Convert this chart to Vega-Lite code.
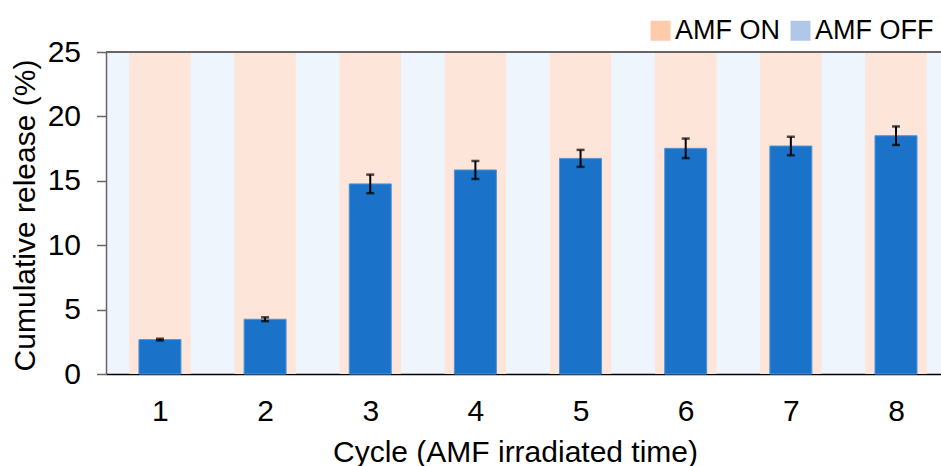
{
  "$schema": "https://vega.github.io/schema/vega-lite/v6.json",
  "width": 835,
  "height": 322,
  "autosize": {"type": "none"},
  "padding": {"left": 106, "top": 52, "right": 0, "bottom": 92},
  "background": "white",
  "view": {"fill": "#EEF5FC", "stroke": null},
  "config": {
    "font": "Liberation Sans"
  },
  "datasets": {
    "release": [
      {"cycle": 1, "value": 2.67, "err": 0.07},
      {"cycle": 2, "value": 4.25, "err": 0.15},
      {"cycle": 3, "value": 14.76, "err": 0.72},
      {"cycle": 4, "value": 15.84, "err": 0.70},
      {"cycle": 5, "value": 16.74, "err": 0.66},
      {"cycle": 6, "value": 17.52, "err": 0.76},
      {"cycle": 7, "value": 17.70, "err": 0.72},
      {"cycle": 8, "value": 18.50, "err": 0.72}
    ],
    "status": [
      {"status": "AMF ON"},
      {"status": "AMF OFF"}
    ]
  },
  "data": {"name": "release"},
  "layer": [
    {
      "mark": {"type": "bar", "orient": "vertical", "size": 61.5, "color": "#FEE5D9"},
      "encoding": {
        "x": {
          "field": "cycle",
          "type": "quantitative",
          "title": "Cycle (AMF irradiated time)",
          "scale": {"domain": [0.487, 8.428], "nice": false, "zero": false, "padding": 0},
          "axis": {
            "values": [1, 2, 3, 4, 5, 6, 7, 8],
            "format": "d",
            "ticks": false,
            "grid": false,
            "domainColor": "#000000",
            "domainWidth": 1.5,
            "labelFontSize": 30,
            "labelColor": "#000000",
            "labelPadding": 22,
            "labelFlush": false,
            "titleFontSize": 30,
            "titleFontWeight": "normal",
            "titleColor": "#000000",
            "titleX": 409,
            "titleY": 87,
            "titleBaseline": "alphabetic",
            "titleAnchor": "middle",
            "titleAlign": "center"
          }
        },
        "y": {
          "datum": 25,
          "type": "quantitative",
          "title": "Cumulative release (%)",
          "scale": {"domain": [0, 25], "nice": false},
          "axis": {
            "values": [0, 5, 10, 15, 20, 25],
            "grid": false,
            "domainColor": "#666666",
            "domainWidth": 1.5,
            "tickColor": "#666666",
            "tickSize": 9.5,
            "tickWidth": 1.5,
            "labelFontSize": 30,
            "labelColor": "#000000",
            "labelPadding": 16,
            "titleFontSize": 30,
            "titleFontWeight": "normal",
            "titleColor": "#000000",
            "titleAngle": -90,
            "titleX": -81,
            "titleY": 163,
            "titleAlign": "center",
            "titleBaseline": "middle"
          }
        },
        "y2": {"datum": 0}
      }
    },
    {
      "mark": {"type": "rule", "color": "#666666", "strokeWidth": 1.5},
      "encoding": {"y": {"datum": 25, "type": "quantitative", "title": "Cumulative release (%)"}}
    },
    {
      "mark": {"type": "bar", "orient": "vertical", "size": 42, "color": "#1A73C8", "stroke": "#4F94DA", "strokeWidth": 1},
      "encoding": {
        "x": {"field": "cycle", "type": "quantitative", "title": "Cycle (AMF irradiated time)"},
        "y": {"field": "value", "type": "quantitative", "title": "Cumulative release (%)"}
      }
    },
    {
      "mark": {
        "type": "errorbar",
        "color": "#000000",
        "rule": {"strokeWidth": 2},
        "ticks": {"size": 8, "thickness": 2.5}
      },
      "encoding": {
        "x": {"field": "cycle", "type": "quantitative", "title": "Cycle (AMF irradiated time)"},
        "y": {"field": "value", "type": "quantitative", "title": "Cumulative release (%)"},
        "yError": {"field": "err"}
      }
    },
    {
      "data": {"name": "status"},
      "mark": {"type": "square", "opacity": 0, "size": 1},
      "encoding": {
        "color": {
          "field": "status",
          "type": "nominal",
          "scale": {"domain": ["AMF ON", "AMF OFF"], "range": ["#FFCBA9", "#AFC8EA"]},
          "legend": {
            "title": null,
            "orient": "none",
            "direction": "horizontal",
            "legendX": 541,
            "legendY": -35,
            "padding": 0,
            "symbolType": "square",
            "symbolSize": 400,
            "symbolOpacity": 1,
            "symbolStrokeWidth": 0,
            "labelFontSize": 27,
            "labelColor": "#000000",
            "labelOffset": 1,
            "columnPadding": 7,
            "labelLimit": 300
          }
        }
      }
    }
  ]
}
